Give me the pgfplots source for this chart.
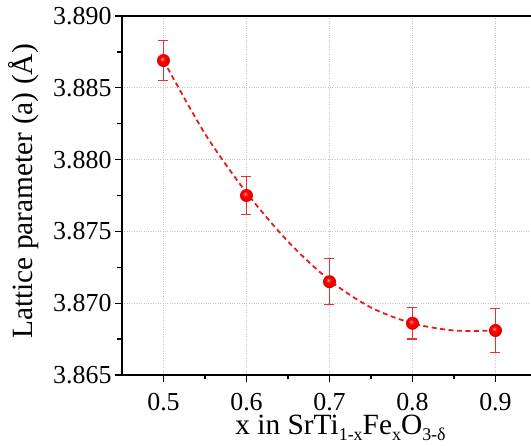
\documentclass[border=0pt]{standalone}
\usepackage{pgfplots}
\pgfplotsset{compat=1.18}
\usepackage{fontspec}
\setmainfont{Liberation Serif}

\definecolor{fitred}{RGB}{232,28,28}
\definecolor{barred}{RGB}{228,50,50}

% shiny red ball for the markers
\pgfdeclareradialshading{redball}{\pgfpoint{-6bp}{7bp}}{%
  color(0bp)=(white!85!red); color(4bp)=(red!75!white); color(11bp)=(red);
  color(22bp)=(red!92!black); color(25bp)=(red!80!black); color(50bp)=(red!80!black)}
\pgfdeclareplotmark{rball}{%
  \pgfpathcircle{\pgfpointorigin}{\pgfplotmarksize}%
  \pgfshadepath{redball}{0}%
  \pgfusepath{discard}}

\newcommand{\sub}[1]{\raisebox{-0.22em}{\fontsize{18}{18}\selectfont #1}}

\pgfplotstableread{
x     a       err
0.5   3.8869  0.0014
0.6   3.8775  0.0013
0.7   3.8715  0.0016
0.8   3.8686  0.0011
0.9   3.8681  0.00155
}\latdata

% dashed polynomial fit
\pgfplotstableread{
x     a
0.50  3.8869
0.55  3.8818
0.60  3.8777
0.65  3.8743
0.70  3.8716
0.75  3.8697
0.80  3.8686
0.85  3.8681
0.90  3.8681
}\fitdata

\begin{document}
\begin{tikzpicture}
\begin{axis}[
  at={(0,0)}, anchor=south west,
  scale only axis,
  width=409bp, height=359bp,
  xmin=0.45, xmax=0.9428,
  ymin=3.865, ymax=3.890,
  axis x line=box, axis y line=left,
  axis line style={line width=1.6bp, -},
  xtick={0.5,0.6,0.7,0.8,0.9},
  ytick={3.865,3.870,3.875,3.880,3.885,3.890},
  minor x tick num=1, minor y tick num=1,
  xtick pos=bottom, ytick pos=left,
  tick align=outside,
  major tick length=7bp, minor tick length=4.5bp,
  every tick/.style={black, line width=1.4bp},
  grid=major,
  major grid style={gray!45, dotted, line width=0.8bp},
  tick label style={font=\fontsize{26}{30}\selectfont},
  /pgf/number format/assume math mode=true,
  xticklabel style={inner sep=0pt, anchor=base, yshift=-29bp,
    /pgf/number format/.cd, fixed, fixed zerofill, precision=1},
  yticklabel style={/pgf/number format/.cd, fixed, fixed zerofill, precision=3},
  label style={font=\fontsize{29.5}{34}\selectfont, inner sep=0pt},
  xlabel={x in SrTi\sub{1-x}Fe\sub{x}O\sub{3-δ}},
  ylabel={Lattice parameter (a) (Å)},
  xlabel style={at={(rel axis cs:0.5,0)}, anchor=base, yshift=-59.5bp, xshift=14bp},
  ylabel style={at={(rel axis cs:0,0.5)}, anchor=base, yshift=89bp, xshift=4bp},
  clip=false,
]
\addplot[fitred, line width=1.8bp, dash pattern=on 5bp off 3.5bp, smooth] table[x=x, y=a] {\fitdata};
\addplot[
  barred, only marks, mark=rball, mark size=6.5bp,
  error bars/.cd, y dir=both, y explicit,
  error bar style={barred, line width=1.3bp},
  error mark options={rotate=90, mark size=5bp, line width=1.3bp, barred},
] table[x=x, y=a, y error=err] {\latdata};
\end{axis}
\pgfresetboundingbox
\path (-122bp,-71bp) rectangle (409bp,375bp);
\end{tikzpicture}
\end{document}
